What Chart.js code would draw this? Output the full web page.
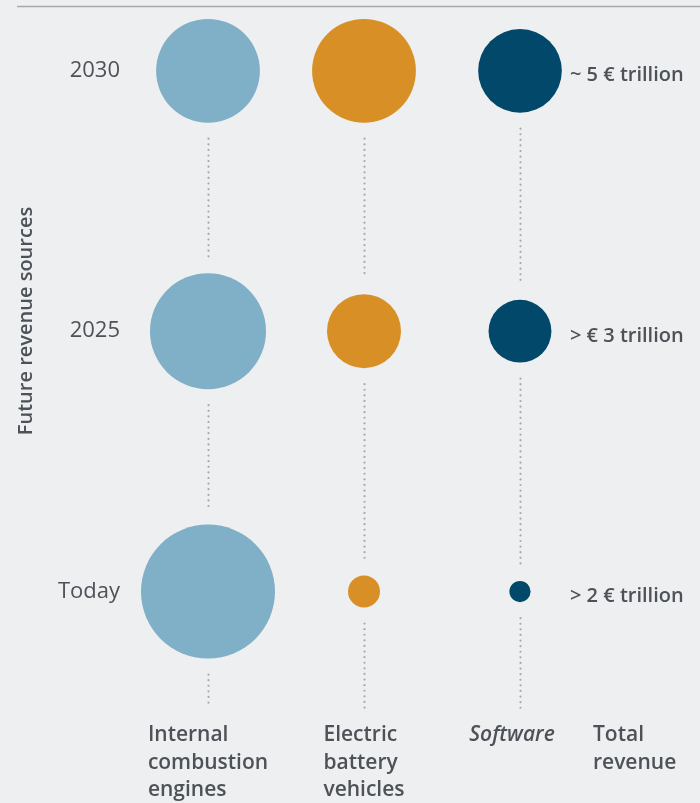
<!DOCTYPE html>
<html>
<head>
<meta charset="utf-8">
<script src="https://cdn.jsdelivr.net/npm/chart.js@4/dist/chart.umd.min.js"></script>
<style>
  html, body { margin: 0; padding: 0; background: #eeeff0; }
  #wrap { width: 700px; height: 803px; position: relative; }
</style>
</head>
<body>
<div id="wrap"><canvas id="revenueChart"></canvas></div>
<script>
"use strict";
// rows from bottom to top, columns left to right
let rowLabels = ["Today", "2025", "2030"];
let columnLabels = [["Internal", "combustion", "engines"], ["Electric", "battery", "vehicles"], ["Software"]];
let totalLabel = ["Total", "revenue"];
let totalRevenue = ["> 2 € trillion", "> € 3 trillion", "~ 5 € trillion"];

// relative bubble area (largest bubble = 100)
let iceSize = [100, 75, 60];
let evSize = [5.7, 30.5, 60];
let softwareSize = [2.5, 22, 39];

let colours = ["#80afc8", "#d88f25", "#02486a"];
let textColour = "#4d5258";
let fontFamily = "'Open Sans', 'Noto Sans', sans-serif";

/**
 * Turns a relative area into a bubble radius in pixels.
 */
function radiusOf(area){
  return 67 * Math.sqrt(area / 100);
}

function bubblePoints(col, sizes){
  let points = new Array();
  for(let i = 0; i < sizes.length; i++){
    points.push({x: col, y: i, r: radiusOf(sizes[i])});
  }
  return points;
}

let seriesSizes = [iceSize, evSize, softwareSize];
let datasets = new Array();
for(let c = 0; c < seriesSizes.length; c++){
  datasets.push({
    label: columnLabels[c].join(" "),
    data: bubblePoints(c, seriesSizes[c]),
    backgroundColor: colours[c],
    borderWidth: 0,
    hoverBorderWidth: 0
  });
}

// dotted connectors, labels and the top rule
let decorations = {
  id: "decorations",
  beforeDatasetsDraw: function(chart){
    let ctx = chart.ctx;
    let area = chart.chartArea;
    let xs = chart.scales.x;
    let ys = chart.scales.y;
    let gap = 16;
    ctx.save();
    ctx.strokeStyle = "#a5a8ad";
    ctx.lineWidth = 2.2;
    ctx.lineCap = "round";
    ctx.setLineDash([0, 5.6]);
    for(let c = 0; c < seriesSizes.length; c++){
      let px = Math.round(xs.getPixelForValue(c));
      let sizes = seriesSizes[c];
      for(let i = 0; i < sizes.length; i++){
        let yLow = ys.getPixelForValue(i);
        let from = yLow + radiusOf(sizes[i]) + gap;
        let to = area.bottom - 2;
        if(i > 0){
          let yPrev = ys.getPixelForValue(i - 1);
          to = yPrev - radiusOf(sizes[i - 1]) - gap;
        }
        // segment goes below bubble i, down to the next bubble (or the bottom)
        ctx.beginPath();
        ctx.moveTo(px + 0.5, from);
        ctx.lineTo(px + 0.5, to);
        ctx.stroke();
      }
    }
    ctx.restore();

    // top rule
    ctx.save();
    ctx.strokeStyle = "#a6a9b0";
    ctx.lineWidth = 1.4;
    ctx.beginPath();
    ctx.moveTo(17, area.top - 0.5);
    ctx.lineTo(chart.width, area.top - 0.5);
    ctx.stroke();
    ctx.restore();
  },
  afterDraw: function(chart){
    let ctx = chart.ctx;
    let area = chart.chartArea;
    let xs = chart.scales.x;
    let ys = chart.scales.y;
    ctx.save();
    ctx.fillStyle = textColour;

    // column labels under the chart, left aligned in a centred block
    let baseY = area.bottom + 31;
    let lineH = 27.5;
    for(let c = 0; c < columnLabels.length; c++){
      ctx.font = (c == 2 ? "italic " : "") + "600 21px " + fontFamily;
      let widest = 0;
      for(let l = 0; l < columnLabels[c].length; l++){
        widest = Math.max(widest, ctx.measureText(columnLabels[c][l]).width);
      }
      let left = xs.getPixelForValue(c) - widest / 2 - (c == 2 ? 8 : 0);
      ctx.textAlign = "left";
      for(let l = 0; l < columnLabels[c].length; l++){
        ctx.fillText(columnLabels[c][l], left, baseY + l * lineH);
      }
    }
    let totalX = xs.getPixelForValue(2) + 73;
    ctx.font = "600 21px " + fontFamily;
    for(let l = 0; l < totalLabel.length; l++){
      ctx.fillText(totalLabel[l], totalX, baseY + l * lineH);
    }

    // total revenue per row
    ctx.font = "600 20px " + fontFamily;
    ctx.textBaseline = "middle";
    for(let i = 0; i < totalRevenue.length; i++){
      ctx.fillText(totalRevenue[i], xs.getPixelForValue(2) + 50, ys.getPixelForValue(i) + 5);
    }

    // vertical axis title
    ctx.translate(26, 321);
    ctx.rotate(-Math.PI / 2);
    ctx.textAlign = "center";
    ctx.font = "600 20px " + fontFamily;
    ctx.fillText("Future revenue sources", 0, 0);
    ctx.restore();
  }
};

let revenueChart = new Chart(document.getElementById("revenueChart"), {
  type: "bubble",
  data: { datasets: datasets },
  plugins: [decorations],
  options: {
    responsive: true,
    maintainAspectRatio: false,
    animation: false,
    layout: { autoPadding: false, padding: { top: 7, bottom: 93, left: 0, right: 0 } },
    plugins: {
      legend: { display: false },
      tooltip: { enabled: false }
    },
    scales: {
      x: {
        type: "linear",
        display: false,
        min: -0.5,
        max: 3.154
      },
      y: {
        type: "linear",
        min: -0.455,
        max: 2.245,
        grid: { display: false, drawTicks: false },
        border: { display: false },
        afterBuildTicks: function(axis){
          axis.ticks = rowLabels.map(function(l, i){ return {value: i}; });
        },
        afterFit: function(axis){
          axis.width = 130;
          axis.paddingTop = 0;
          axis.paddingBottom = 0;
        },
        ticks: {
          padding: 10,
          color: textColour,
          font: { family: fontFamily, size: 22, weight: "400" },
          callback: function(value){ return rowLabels[value]; }
        }
      }
    }
  }
});
</script>
</body>
</html>
